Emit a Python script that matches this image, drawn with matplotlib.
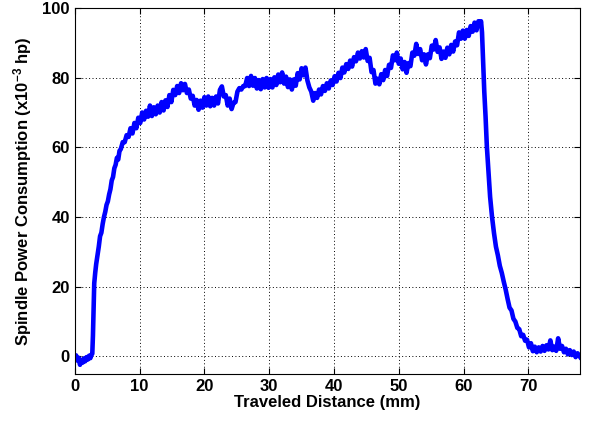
import matplotlib
matplotlib.use("Agg")
import matplotlib.pyplot as plt

plt.rcParams['font.family'] = ['Liberation Sans', 'DejaVu Sans']
plt.rcParams['mathtext.fontset'] = 'custom'
plt.rcParams['mathtext.rm'] = 'Liberation Sans:bold'
plt.rcParams['mathtext.default'] = 'rm'

distance_mm = [
    0, 0.2, 0.4, 0.6, 0.8, 1.0, 1.2, 1.4, 1.6, 1.8, 2.0, 2.2, 2.4, 2.6,
    2.7, 2.8, 2.9, 3.0, 3.15, 3.3, 3.5, 3.7, 3.9, 4.1, 4.3, 4.5, 4.7, 4.9,
    5.1, 5.3, 5.5, 5.7, 5.9, 6.1, 6.3, 6.5, 6.7, 6.9, 7.1, 7.4, 7.7, 8.0,
    8.3, 8.6, 8.9, 9.2, 9.5, 9.8, 10.1, 10.4, 10.7, 11.0, 11.3, 11.6, 11.9,
    12.2, 12.5, 12.8, 13.1, 13.4, 13.7, 14.0, 14.3, 14.6, 14.9, 15.2, 15.5,
    15.8, 16.1, 16.4, 16.7, 17.0, 17.3, 17.6, 17.9, 18.2, 18.5, 18.8, 19.1,
    19.4, 19.7, 20.0, 20.3, 20.6, 20.9, 21.2, 21.5, 21.8, 22.1, 22.4, 22.7,
    23.0, 23.3, 23.6, 23.9, 24.2, 24.5, 24.8, 25.1, 25.4, 25.7, 26.0, 26.3,
    26.6, 26.9, 27.2, 27.5, 27.8, 28.1, 28.4, 28.7, 29.0, 29.3, 29.6, 29.9,
    30.2, 30.5, 30.8, 31.1, 31.4, 31.7, 32.0, 32.3, 32.6, 32.9, 33.2, 33.5,
    33.8, 34.1, 34.4, 34.7, 35.0, 35.3, 35.6, 35.9, 36.2, 36.5, 36.8, 37.1,
    37.4, 37.7, 38.0, 38.3, 38.6, 38.9, 39.2, 39.5, 39.8, 40.1, 40.4, 40.7,
    41.0, 41.3, 41.6, 41.9, 42.2, 42.5, 42.8, 43.1, 43.4, 43.7, 44.0, 44.3,
    44.6, 44.9, 45.2, 45.5, 45.8, 46.1, 46.4, 46.7, 47.0, 47.3, 47.6, 47.9,
    48.2, 48.5, 48.8, 49.1, 49.4, 49.7, 50.0, 50.3, 50.6, 50.9, 51.2, 51.5,
    51.8, 52.1, 52.4, 52.7, 53.0, 53.3, 53.6, 53.9, 54.2, 54.5, 54.8, 55.1,
    55.4, 55.7, 56.0, 56.3, 56.6, 56.9, 57.2, 57.5, 57.8, 58.1, 58.4, 58.7,
    59.0, 59.3, 59.6, 59.9, 60.2, 60.5, 60.8, 61.1, 61.4, 61.7, 62.0, 62.3,
    62.5, 62.7, 62.85, 63.0, 63.2, 63.4, 63.6, 63.85, 64.1, 64.4, 64.7, 65.0,
    65.3, 65.6, 65.9, 66.2, 66.5, 66.8, 67.1, 67.4, 67.7, 68.0, 68.3, 68.6,
    68.9, 69.2, 69.5, 69.8, 70.1, 70.4, 70.7, 71.0, 71.3, 71.6, 71.9, 72.2,
    72.5, 72.8, 73.1, 73.4, 73.7, 74.0, 74.3, 74.6, 74.9, 75.2, 75.5, 75.8,
    76.1, 76.4, 76.7, 77.0, 77.3, 77.6, 78.0,
]

power_e3_hp = [
    -0.5, 0.3, -1.2, -0.4, -2.4, -1.0, -1.8, -0.6, -1.4, -0.2, -0.9, 0.2, -0.5, 0.6,
    0.8, 6, 14, 21, 24, 26.5, 29, 31.5, 34.5, 35.5, 38, 40, 41.5, 43.5,
    44.5, 46.5, 48, 50.5, 51.5, 54, 55, 57, 56.5, 59, 59.5, 61.5, 61.5, 63.5,
    63, 65.5, 64, 67, 65.5, 68.5, 67, 70, 68, 70.5, 68.8, 72, 69,
    71.5, 69.5, 72, 70, 73, 70.6, 73.5, 71.6, 75, 73, 76.5, 75,
    77.6, 75.6, 78.4, 76.4, 78.2, 75.6, 76.6, 74, 74.8, 72, 73.6, 70.8,
    73.4, 71.4, 74.4, 72, 74.6, 71.8, 74.2, 72, 74.6, 72.6, 76.5, 77.5,
    74.6, 75, 72, 74, 71, 72.8, 73, 76, 77, 76.6, 77.6, 77.6,
    79.9, 77.6, 80.5, 77.7, 79.9, 76.9, 79.3, 76.7, 79.6, 77.2, 79.9, 77.1,
    79.6, 77.2, 80.1, 77.9, 80.9, 78.7, 81.5, 78.3, 80.3, 77.3, 79.5, 76.6,
    79.5, 77.7, 81.3, 79.5, 82.7, 80.7, 82.9, 79.2, 77.2, 76, 73.4, 75.6,
    74.2, 76.6, 75.2, 77.6, 76.2, 78.4, 76.9, 79.2, 77.9, 80.4, 78.9, 81.4,
    79.9, 82.9, 81.5, 83.9, 82.5, 84.9, 83.2, 85.9, 84.7, 87.2, 85.5, 87.6,
    85.8, 88.2, 84.8, 85.7, 81.6, 82.2, 78.3, 79.7, 78.1, 81, 79.3, 82.2,
    80.5, 83.7, 82.8, 86.4, 85, 87.2, 84, 85.5, 82.4, 84.5, 81.4, 84.2,
    83.3, 87.2, 86.3, 89.7, 86.8, 88.2, 85, 86.7, 83.8, 86.7, 85.6, 89.2,
    88.1, 90.8, 87.4, 88.7, 85.4, 87.5, 85.7, 88.6, 86.7, 89.4, 87.5, 90.4,
    89.3, 93, 91.2, 93.5, 91.2, 93.7, 92, 94.8, 93.2, 95.8, 93.6, 96.2,
    95, 96.2, 93, 86, 76, 68.8, 60.2, 53, 45.8, 40, 35.4, 31.5,
    29, 26, 24, 21.5, 19.2, 16.5, 14, 13.2, 10.8, 10, 8.2, 7.8,
    5.8, 6.2, 4.5, 4.8, 2.6, 3.8, 1.5, 2.8, 1.2, 2.6, 1.4, 3,
    1.6, 3.2, 2, 4.6, 1.8, 2.8, 1.6, 5.2, 2.2, 3, 1.2, 2.2,
    0.6, 1.8, 0.4, 1.4, -0.2, 0.9, -0.2,
]

x_ticks = [0, 10, 20, 30, 40, 50, 60, 70]
y_ticks = [0, 20, 40, 60, 80, 100]

fig = plt.figure(figsize=(5.89, 4.21), dpi=100)
ax = fig.add_axes([0.127, 0.112, 0.858, 0.869])
ax.plot(distance_mm, power_e3_hp, color='#0000ff', linewidth=3.3)
ax.set_xlim(0, 78)
ax.set_ylim(-5, 100)
ax.set_xticks(x_ticks)
ax.set_yticks(y_ticks)
ax.grid(True, color='black', linestyle=(0, (1, 2.5)), linewidth=0.7)
ax.tick_params(direction='in', top=True, right=True, length=4, width=0.8,
               labelsize=12)
for lab in ax.get_xticklabels() + ax.get_yticklabels():
    lab.set_fontweight('bold')
for s in ax.spines.values():
    s.set_linewidth(0.8)
ax.set_xlabel('Traveled Distance (mm)', fontsize=12, fontweight='bold', labelpad=1)
ax.set_ylabel('Spindle Power Consumption (x10$^{-3}$ hp)', fontsize=12,
              fontweight='bold', labelpad=6)
fig.savefig('out.png', dpi=100)
